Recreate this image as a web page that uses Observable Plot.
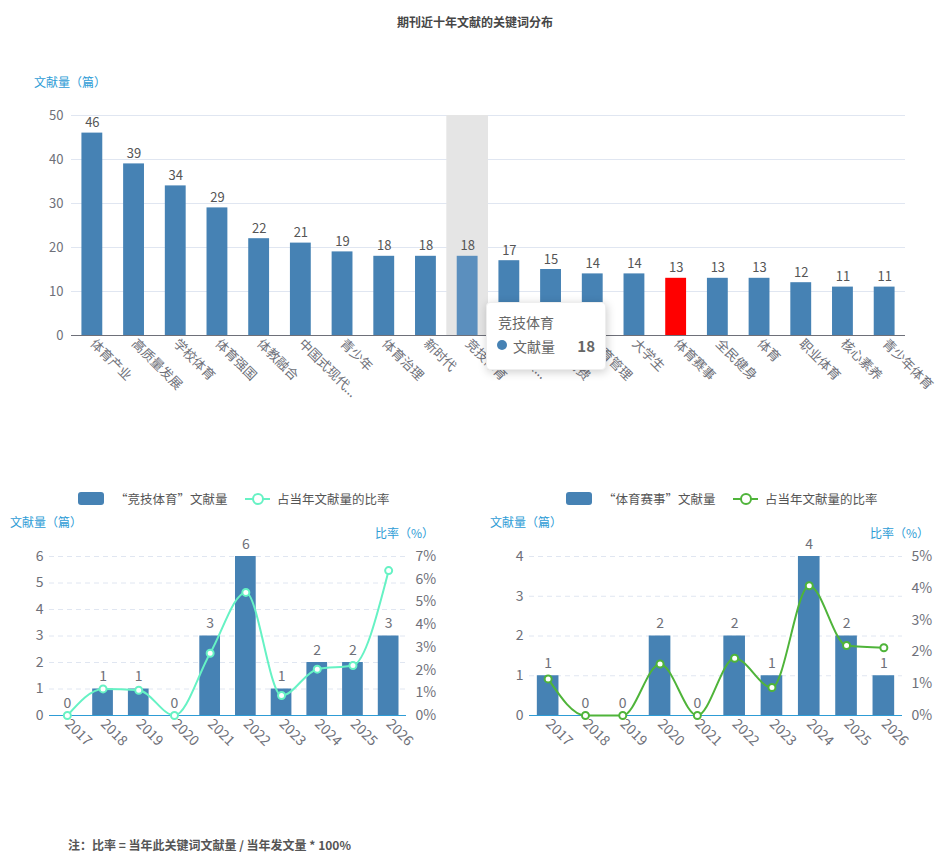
<!DOCTYPE html>
<html><head><meta charset="utf-8">
<script src="https://cdn.jsdelivr.net/npm/d3@7"></script>
<script src="https://cdn.jsdelivr.net/npm/@observablehq/plot@0.6"></script>
<style>
body{margin:0;background:#fff;font-family:"Noto Sans CJK SC","Noto Sans",sans-serif;}
#root{position:relative;width:950px;height:867px;overflow:hidden;background:#fff;}
.abs{position:absolute;white-space:nowrap;}
.title{left:0;width:950px;top:13px;text-align:center;font-size:12px;font-weight:bold;color:#464646;}
.ytitle{font-size:12px;color:#2e9cd6;}
.leg{font-size:12.5px;color:#555;}
.note{left:68px;top:836px;font-size:12px;font-weight:bold;color:#555;}
.tip{left:486px;top:302px;width:120px;height:68px;background:#fff;border-radius:4px;box-shadow:1px 2px 10px rgba(0,0,0,0.2);border:1px solid #eee;box-sizing:border-box;}
</style></head><body><div id="root"></div>
<script>
// ---------- data ----------
const keywords = ["体育产业","高质量发展","学校体育","体育强国","体教融合","中国式现代...","青少年","体育治理","新时代","竞技体育","体育服...","体育消费","体育管理","大学生","体育赛事","全民健身","体育","职业体育","核心素养","青少年体育"];
const counts = [46,39,34,29,22,21,19,18,18,18,17,15,14,14,13,13,13,12,11,11];
const yTicksTop = [0,10,20,30,40,50];
const years = ["2017","2018","2019","2020","2021","2022","2023","2024","2025","2026"];
const jjCounts = [0,1,1,0,3,6,1,2,2,3];
const jjRates = [0,1.17,1.11,0,2.74,5.42,0.88,2.04,2.20,6.38];
const ssCounts = [1,0,0,2,0,2,1,4,2,1];
const ssRates = [1.15,0,0,1.62,0,1.80,0.88,4.08,2.20,2.13];
const jjCountTicks = [0,1,2,3,4,5,6];
const jjRateTicks = [0,1,2,3,4,5,6,7];
const ssCountTicks = [0,1,2,3,4];
const ssRateTicks = [0,1,2,3,4,5];
const hoverKeyword = "竞技体育";
const redKeyword = "体育赛事";

const FONT = '"Noto Sans CJK SC","Noto Sans",sans-serif';
const BLUE = "#4682b4";
const AXIS_BLUE = "#2e9cd6";
const root = document.getElementById("root");

function addDiv(cls, html, style) {
  const d = document.createElement("div");
  d.className = "abs " + cls;
  d.innerHTML = html;
  if (style) Object.assign(d.style, style);
  root.appendChild(d);
  return d;
}
function place(el, left, top) {
  el.style.position = "absolute";
  el.style.left = left + "px";
  el.style.top = top + "px";
  root.appendChild(el);
}

addDiv("title", "期刊近十年文献的关键词分布");
addDiv("ytitle", "文献量（篇）", {left: "34px", top: "73px"});

// ---------- top chart ----------
const topData = keywords.map((k, i) => ({k, v: counts[i]}));
const W1 = 950, ML1 = 71, MR1 = 45;
const step1 = (W1 - ML1 - MR1) / keywords.length;
const topPlot = Plot.plot({
  width: W1, height: 320,
  marginTop: 15, marginBottom: 85, marginLeft: ML1, marginRight: MR1,
  style: {fontFamily: FONT, fontSize: "13px", color: "#6e7079", background: "transparent", overflow: "visible"},
  x: {type: "band", domain: keywords, paddingInner: 0.5, paddingOuter: 0.25, round: false, label: null},
  y: {domain: [0, 50], label: null},
  marks: [
    Plot.gridY(yTicksTop.slice(1), {stroke: "#e0e6f1", strokeOpacity: 1}),
    Plot.barY([hoverKeyword], {x: d => d, y1: 0, y2: 50, fill: "#e5e5e5", insetLeft: -step1 * 0.25, insetRight: -step1 * 0.25}),
    Plot.barY(topData, {x: "k", y: "v", fill: d => d.k === redKeyword ? "#ff0000" : d.k === hoverKeyword ? "#5b8fbe" : BLUE}),
    Plot.ruleY([0], {stroke: "#6e7079"}),
    Plot.axisY({ticks: yTicksTop, tickFormat: d => String(d), tickSize: 0, tickPadding: 8, label: null, fontSize: 13, fill: "#6e7079"}),
    Plot.axisX({tickRotate: 45, tickSize: 0, tickPadding: 6, label: null, fontSize: 13, fill: "#6e7079"}),
    Plot.text(topData, {x: "k", y: "v", text: d => String(d.v), dy: -10, fill: "#555", fontSize: 13})
  ]
});
place(topPlot, 0, 100);

// tooltip
addDiv("tip", `
  <div style="position:absolute;left:11px;top:9px;font-size:14px;color:#666;">竞技体育</div>
  <div style="position:absolute;left:10px;top:37px;width:10px;height:10px;border-radius:50%;background:${BLUE};"></div>
  <div style="position:absolute;left:26px;top:33px;font-size:14px;color:#666;">文献量</div>
  <div style="position:absolute;right:10px;top:32px;font-size:15px;font-weight:bold;color:#666;">18</div>`);

// ---------- bottom charts ----------
function comboChart(counts, rates, countTicks, rateTicks, lineColor, ml, mr) {
  const data = years.map((y, i) => ({y, c: counts[i], r: rates[i]}));
  const cmax = countTicks[countTicks.length - 1];
  const rmax = rateTicks[rateTicks.length - 1];
  const K = cmax / rmax;
  return Plot.plot({
    width: 470, height: 235,
    marginTop: 16, marginBottom: 60, marginLeft: ml, marginRight: mr,
    style: {fontFamily: FONT, fontSize: "14px", color: "#6e7079", background: "transparent", overflow: "visible"},
    x: {type: "band", domain: years, paddingInner: 0.42, paddingOuter: 0.21, round: false, label: null},
    y: {domain: [0, cmax], label: null},
    marks: [
      Plot.gridY(countTicks.slice(1), {stroke: "#e0e6f1", strokeOpacity: 1, strokeDasharray: "5,4"}),
      Plot.barY(data, {x: "y", y: "c", fill: BLUE}),
      Plot.ruleY([0], {stroke: AXIS_BLUE, strokeWidth: 1.2}),
      Plot.axisY({anchor: "left", ticks: countTicks, tickFormat: d => String(d), tickSize: 0, tickPadding: 6, label: null, fontSize: 14, fill: "#6e7079"}),
      Plot.axisY({anchor: "right", ticks: rateTicks.map(t => t * K), tickFormat: d => Math.round(d / K) + "%", tickSize: 0, tickPadding: 9, label: null, fontSize: 14, fill: "#6e7079"}),
      Plot.axisX({tickRotate: 45, tickSize: 0, tickPadding: 6, label: null, fontSize: 14, fill: "#6e7079"}),
      Plot.text(data, {x: "y", y: "c", text: d => String(d.c), dy: -12, fill: "#6e7079", fontSize: 14}),
      Plot.lineY(data, {x: "y", y: d => d.r * K, curve: "monotone-x", stroke: lineColor, strokeWidth: 2}),
      Plot.dot(data, {x: "y", y: d => d.r * K, r: 3.5, fill: "#fff", stroke: lineColor, strokeWidth: 2})
    ]
  });
}

const JJ_COLOR = "#66f2c4";
const SS_COLOR = "#4fb43a";

place(comboChart(jjCounts, jjRates, jjCountTicks, jjRateTicks, JJ_COLOR, 49, 64), 0, 540);
place(comboChart(ssCounts, ssRates, ssCountTicks, ssRateTicks, SS_COLOR, 49, 48), 480, 540);

// legends
function legend(x0, name, color) {
  addDiv("leg", "", {left: x0 + "px", top: "492px", width: "26px", height: "13px", background: BLUE, borderRadius: "3px"});
  addDiv("leg", name, {left: (x0 + 37) + "px", top: "489px"});
  const lx = x0 + 167;
  addDiv("leg", "", {left: lx + "px", top: "498px", width: "25px", height: "2px", background: color});
  addDiv("leg", "", {left: (lx + 7) + "px", top: "493px", width: "8px", height: "8px", borderRadius: "50%", border: "2px solid " + color, background: "#fff"});
  addDiv("leg", "占当年文献量的比率", {left: (lx + 32) + "px", top: "489px"});
}
legend(78, "“竞技体育”文献量", JJ_COLOR);
legend(566, "“体育赛事”文献量", SS_COLOR);

// axis titles
addDiv("ytitle", "文献量（篇）", {left: "10px", top: "513px"});
addDiv("ytitle", "文献量（篇）", {left: "490px", top: "513px"});
addDiv("ytitle", "比率（%）", {left: "375px", top: "524px"});
addDiv("ytitle", "比率（%）", {left: "870px", top: "524px"});

addDiv("note", "注：比率 = 当年此关键词文献量 / 当年发文量 * 100%");
</script></body></html>
